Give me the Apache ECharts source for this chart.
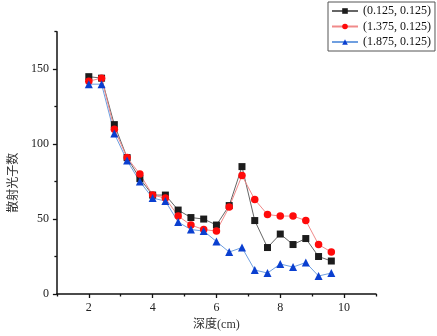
<!DOCTYPE html>
<html><head><meta charset="utf-8">
<script src="https://cdn.jsdelivr.net/npm/echarts@6/dist/echarts.min.js"></script>
<style>html,body{margin:0;padding:0;background:#fff}#c{width:437px;height:336px}</style>
</head><body><div id="c"></div>
<script>
const depth = [2.0,2.4,2.8,3.2,3.6,4.0,4.4,4.8,5.2,5.6,6.0,6.4,6.8,7.2,7.6,8.0,8.4,8.8,9.2,9.6];
const seriesNames = ['(0.125, 0.125)','(1.375, 0.125)','(1.875, 0.125)'];
const blackVals = [145,144,113,91,77,66,66,56,51,50,46,59,85,49,31,40,33,37,25,22];
const redVals   = [142,144,110,91,80,66,64,52,46,43,42,58,79,63,53,52,52,49,33,28];
const blueVals  = [140,140,107,89,75,64,62,48,43,42,35,28,31,16,14,20,18,21,12,14];
const xMajorTicks = [2,4,6,8,10];
const xMinorTicks = [1,3,5,7,9,11];
const yMajorTicks = [0,50,100,150];
const yMinorTicks = [25,75,125,175];
const xName = '深度(cm)';
const yName = '散射光子数';

const pair = vals => depth.map((d,i)=>[d, vals[i]]);
const serif = "'Liberation Serif', 'DejaVu Serif', serif";
const cjk = "'Liberation Serif', 'Noto Sans CJK SC', serif";
const chart = echarts.init(document.getElementById('c'));
chart.setOption({
  animation:false,
  backgroundColor:'#fff',
  textStyle:{fontFamily:serif},
  grid:{left:50.7, right:61, top:31.7, bottom:41.3},
  legend:{
    orient:'vertical', left:328, top:2,
    padding:[2,4,2,3], itemGap:1.5, itemWidth:26, itemHeight:7,
    borderColor:'#555', borderWidth:1,
    textStyle:{fontFamily:serif, fontSize:12, color:'#111', lineHeight:14},
    data:seriesNames
  },
  xAxis:[{
    type:'value', min:1, max:11,
    name:xName, nameLocation:'middle', nameGap:25,
    nameTextStyle:{fontFamily:cjk, fontSize:12, color:'#333'},
    axisLine:{lineStyle:{color:'#111', width:1.5}},
    axisTick:{show:true, customValues:xMajorTicks, length:4, lineStyle:{color:'#111', width:1.3}},
    axisLabel:{customValues:xMajorTicks, margin:8, fontFamily:serif, fontSize:12, color:'#222'},
    splitLine:{show:false}
  },{
    type:'value', min:1, max:11, position:'bottom',
    axisLine:{show:false},
    axisTick:{show:true, customValues:xMinorTicks, length:2.5, lineStyle:{color:'#111', width:1.3}},
    axisLabel:{show:false}, splitLine:{show:false}
  }],
  yAxis:[{
    type:'value', min:0, max:175,
    name:yName, nameLocation:'middle', nameGap:32,
    nameTextStyle:{fontFamily:cjk, fontSize:12, color:'#333', padding:[0,40,0,0]},
    axisLine:{show:true, lineStyle:{color:'#111', width:1.5}},
    axisTick:{show:true, customValues:yMajorTicks, length:4, lineStyle:{color:'#111', width:1.3}},
    axisLabel:{customValues:yMajorTicks, margin:8, fontFamily:serif, fontSize:12, color:'#222'},
    splitLine:{show:false}
  },{
    type:'value', min:0, max:175, position:'left',
    axisLine:{show:false},
    axisTick:{show:true, customValues:yMinorTicks, length:2.5, lineStyle:{color:'#111', width:1.3}},
    axisLabel:{show:false}, splitLine:{show:false}
  }],
  series:[
    {name:seriesNames[0], type:'line', data:pair(blackVals), symbol:'rect', symbolSize:7,
     itemStyle:{color:'#1c1c1c'}, lineStyle:{color:'#666', width:1}},
    {name:seriesNames[1], type:'line', data:pair(redVals), symbol:'circle', symbolSize:7.5,
     itemStyle:{color:'#ff0a0a'}, lineStyle:{color:'#f08a8a', width:1}},
    {name:seriesNames[2], type:'line', data:pair(blueVals), symbol:'triangle', symbolSize:8,
     itemStyle:{color:'#0a3fd0'}, lineStyle:{color:'#6f9fe0', width:1}}
  ]
});
</script></body></html>
